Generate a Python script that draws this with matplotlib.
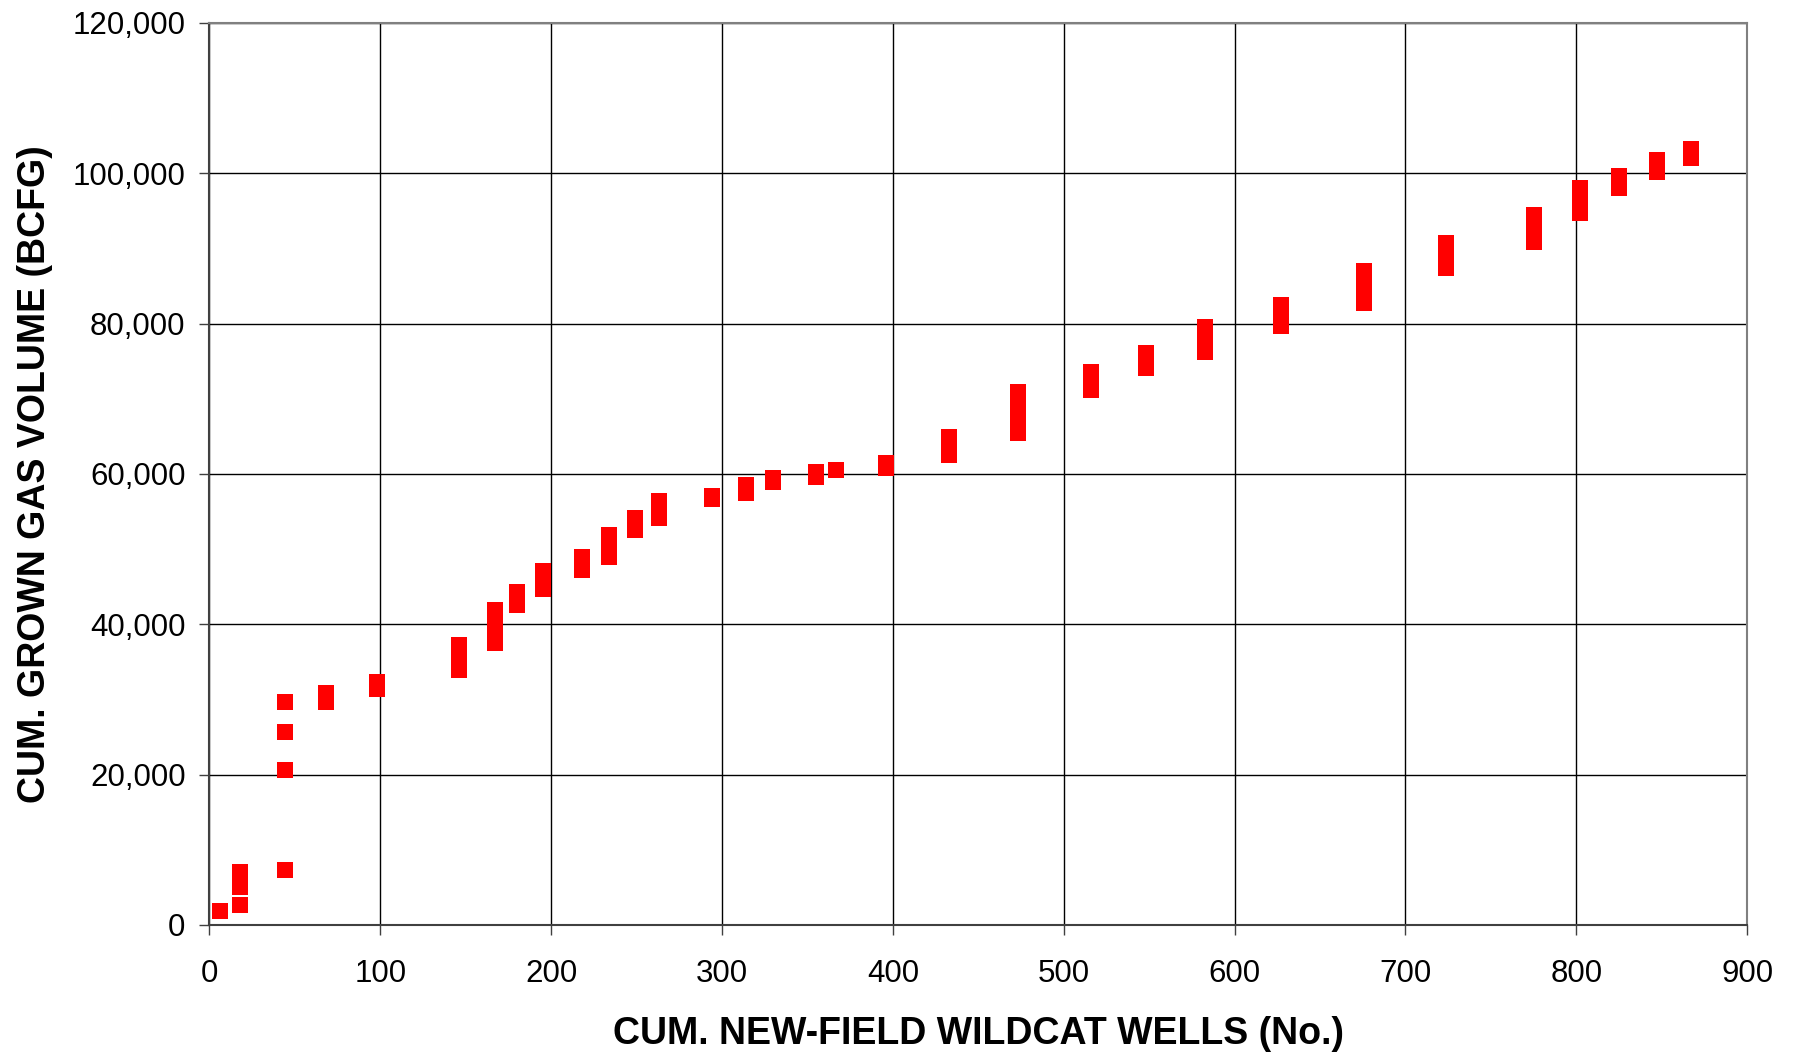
import matplotlib.pyplot as plt
from matplotlib.ticker import FuncFormatter

# cumulative new-field wildcat wells (x) and grown gas volume stacks (y, BCFG)
wells = [6, 18, 44, 68, 98, 146, 167, 180, 195, 218, 234, 249, 263, 294, 314,
         330, 355, 367, 396, 433, 473, 516, 548, 583, 627, 676, 724, 775, 802,
         825, 847, 867]
gas_volumes = [
    [1800],
    [2600, 5000, 5600, 6300, 7000],
    [7300, 20600, 25700, 29600],
    [29600, 30200, 30900],
    [31400, 31900, 32300],
    [33900, 35000, 36000, 37200],
    [37500, 38600, 39800, 40900, 41900],
    [42500, 43400, 44300],
    [44700, 45900, 47100],
    [47200, 48100, 49000],
    [48900, 50000, 51000, 51900],
    [52600, 53400, 54100],
    [54100, 55200, 56400],
    [56700, 57100],
    [57500, 58000, 58500],
    [58900, 59500],
    [59600, 60200],
    [60500],
    [60800, 61400],
    [62500, 63700, 64900],
    [65400, 67200, 69000, 70900],
    [71200, 72400, 73600],
    [74100, 75100, 76100],
    [76200, 77900, 79600],
    [79700, 81100, 82500],
    [82800, 84200, 85600, 87000],
    [87400, 89000, 90700],
    [90900, 92700, 94500],
    [94700, 96300, 98000],
    [98000, 98800, 99600],
    [100200, 101000, 101800],
    [102000, 102600, 103200],
]
x_ticks = [0, 100, 200, 300, 400, 500, 600, 700, 800, 900]
y_ticks = [0, 20000, 40000, 60000, 80000, 100000, 120000]

# flatten the stacks into points
xs = []
ys = []
for x, stack in zip(wells, gas_volumes):
    for y in stack:
        xs.append(x)
        ys.append(y)

fig = plt.figure(figsize=(17.95, 10.54), dpi=100)
ax = fig.add_axes([0.1167, 0.1224, 0.9733 - 0.1167, 0.9783 - 0.1224])

ax.plot(xs, ys, linestyle='none', marker='s', markersize=11.3,
        color='#ff0000', markeredgewidth=0, zorder=3)

ax.set_xlim(0, 900)
ax.set_ylim(0, 120000)
ax.set_xticks(x_ticks)
ax.set_yticks(y_ticks)
ax.yaxis.set_major_formatter(FuncFormatter(lambda v, p: f"{int(v):,}"))

ax.grid(True, color='black', linewidth=1.0)
ax.set_axisbelow(True)
for side in ['top', 'right']:
    ax.spines[side].set_color('#808080')
    ax.spines[side].set_linewidth(1.5)
for side in ['left', 'bottom']:
    ax.spines[side].set_color('#404040')
    ax.spines[side].set_linewidth(1.5)

ax.tick_params(axis='both', direction='out', length=7.2, width=1.0, color='#404040',
               labelsize=22.5, labelfontfamily='Liberation Sans')
ax.tick_params(axis='x', pad=17)
ax.tick_params(axis='y', pad=10)

ax.set_xlabel('CUM. NEW-FIELD WILDCAT WELLS (No.)', fontsize=27, fontweight='bold',
              family=['Liberation Sans', 'DejaVu Sans'])
ax.set_ylabel('CUM. GROWN GAS VOLUME (BCFG)', fontsize=27, fontweight='bold',
              family=['Liberation Sans', 'DejaVu Sans'])
ax.xaxis.set_label_coords(0.5, -0.101)
ax.yaxis.set_label_coords(-0.102, 0.5)

fig.savefig('out.png', dpi=100)
